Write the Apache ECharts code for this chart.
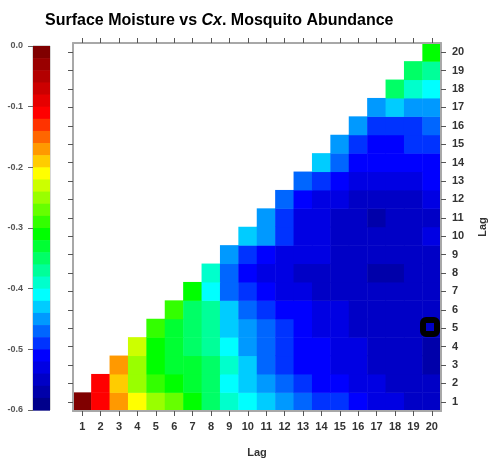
<!DOCTYPE html>
<html><head><meta charset="utf-8">
<script src="https://cdn.jsdelivr.net/npm/echarts@6/dist/echarts.min.js"></script>
<style>html,body{margin:0;padding:0;background:#fff}#c{width:488px;height:459px}</style>
</head><body><div id="c"></div>
<script>
// ---- data ----
const lags = ['1','2','3','4','5','6','7','8','9','10','11','12','13','14','15','16','17','18','19','20'];
// each row r holds values for columns (lag x) r..20
const rowLag1  = [-0.01,-0.11,-0.17,-0.21,-0.25,-0.27,-0.31,-0.35,-0.39,-0.41,-0.43,-0.45,-0.47,-0.49,-0.49,-0.51,-0.53,-0.53,-0.55,-0.55];
const rowLag2  = [-0.11,-0.19,-0.25,-0.29,-0.31,-0.33,-0.35,-0.41,-0.43,-0.45,-0.47,-0.49,-0.51,-0.51,-0.53,-0.53,-0.55,-0.55,-0.55];
const rowLag3  = [-0.17,-0.25,-0.31,-0.33,-0.33,-0.35,-0.39,-0.43,-0.47,-0.49,-0.51,-0.51,-0.53,-0.53,-0.55,-0.55,-0.55,-0.57];
const rowLag4  = [-0.23,-0.31,-0.33,-0.35,-0.37,-0.41,-0.45,-0.47,-0.49,-0.51,-0.51,-0.53,-0.53,-0.55,-0.55,-0.55,-0.57];
const rowLag5  = [-0.29,-0.33,-0.35,-0.37,-0.43,-0.45,-0.47,-0.49,-0.51,-0.53,-0.53,-0.55,-0.55,-0.55,-0.55,-0.55];
const rowLag6  = [-0.29,-0.35,-0.37,-0.43,-0.47,-0.49,-0.51,-0.51,-0.53,-0.53,-0.55,-0.55,-0.55,-0.55,-0.55];
const rowLag7  = [-0.31,-0.41,-0.47,-0.49,-0.51,-0.53,-0.53,-0.55,-0.55,-0.55,-0.55,-0.55,-0.55,-0.55];
const rowLag8  = [-0.39,-0.47,-0.51,-0.53,-0.53,-0.55,-0.55,-0.55,-0.55,-0.57,-0.57,-0.55,-0.55];
const rowLag9  = [-0.45,-0.49,-0.51,-0.53,-0.53,-0.53,-0.55,-0.55,-0.55,-0.55,-0.55,-0.55];
const rowLag10 = [-0.43,-0.45,-0.49,-0.53,-0.53,-0.55,-0.55,-0.55,-0.55,-0.55,-0.53];
const rowLag11 = [-0.45,-0.49,-0.53,-0.53,-0.55,-0.55,-0.57,-0.55,-0.55,-0.55];
const rowLag12 = [-0.47,-0.51,-0.53,-0.53,-0.55,-0.55,-0.55,-0.55,-0.53];
const rowLag13 = [-0.47,-0.49,-0.51,-0.53,-0.53,-0.53,-0.53,-0.51];
const rowLag14 = [-0.43,-0.47,-0.51,-0.51,-0.51,-0.51,-0.51];
const rowLag15 = [-0.45,-0.49,-0.51,-0.51,-0.49,-0.49];
const rowLag16 = [-0.45,-0.49,-0.49,-0.49,-0.47];
const rowLag17 = [-0.45,-0.43,-0.45,-0.45];
const rowLag18 = [-0.35,-0.39,-0.41];
const rowLag19 = [-0.35,-0.37];
const rowLag20 = [-0.31];
// colour levels, top (0.00) to bottom (-0.60), each 0.02 wide
const colorLevels = [
  '#800000','#990000','#B30000','#CC0000','#E60000',
  '#FF0000','#FF3300','#FF6600','#FF9900','#FFCC00',
  '#FFFF00','#CCFF00','#99FF00','#66FF00','#33FF00',
  '#00FF00','#00FF33','#00FF66','#00FF99','#00FFCC',
  '#00FFFF','#00CCFF','#0099FF','#0066FF','#0033FF',
  '#0000FF','#0000E3','#0000C6','#0000AA','#00008B'
];
const levelStep = 0.02;
const colorbarMin = -0.6, colorbarMax = 0, colorbarTickStep = 0.1;
const highlightCell = [20, 5]; // [lag x, lag y]

// ---- build ----
const rows = [rowLag1,rowLag2,rowLag3,rowLag4,rowLag5,rowLag6,rowLag7,rowLag8,rowLag9,rowLag10,
              rowLag11,rowLag12,rowLag13,rowLag14,rowLag15,rowLag16,rowLag17,rowLag18,rowLag19,rowLag20];
const heatData = [];
rows.forEach((vals, ri) => vals.forEach((v, k) => heatData.push([ri + k, ri, v])));
const pieces = colorLevels.map((col, i) => {
  const p = { gte: -(i + 1) * levelStep - 1e-9, color: col };
  if (i === 0) p.lte = 0 + 1e-9; else p.lt = -i * levelStep - 1e-9;
  return p;
});
const cbData = colorLevels.map((c, i) => [0, -i * levelStep, -(i + 1) * levelStep, i]);

const FONT = '"Liberation Sans", Arial, sans-serif';
const lbl = { fontFamily: FONT, fontWeight: 'bold', fontSize: 11, color: '#333' };
const frame = { show: true, lineStyle: { color: '#a8a8a8', width: 2 } };
const tick = (len) => ({ show: true, alignWithLabel: true, interval: 0, length: len, lineStyle: { color: '#555', width: 1 } });

const chart = echarts.init(document.getElementById('c'), null, { renderer: 'canvas' });
chart.setOption({
  animation: false,
  backgroundColor: '#fff',
  title: {
    text: '{b|Surface Moisture vs }{i|Cx}{b|. Mosquito Abundance}',
    left: 40, top: 8,
    textStyle: { rich: {
      b: { fontFamily: FONT, fontWeight: 'bold', fontSize: 16, color: '#000' },
      i: { fontFamily: FONT, fontWeight: 'bold', fontStyle: 'italic', fontSize: 16, color: '#000' }
    } }
  },
  grid: [
    { left: 73, top: 43, width: 368, height: 368, containLabel: false, outerBoundsMode: 'none' },
    { left: 33, top: 46, width: 17, height: 364, containLabel: false, outerBoundsMode: 'none',
      show: true, borderColor: '#b0b0b0', borderWidth: 1 }
  ],
  visualMap: { type: 'piecewise', show: false, dimension: 2, seriesIndex: 0, pieces: pieces },
  xAxis: [
    { type: 'category', gridIndex: 0, data: lags, position: 'bottom', z: 10,
      axisLine: frame, axisTick: tick(5), splitLine: { show: false },
      axisLabel: Object.assign({ interval: 0, margin: 10 }, lbl),
      name: 'Lag', nameLocation: 'middle', nameGap: 36, nameTextStyle: lbl },
    { type: 'category', gridIndex: 0, data: lags, position: 'top', z: 10,
      axisLine: frame, axisTick: tick(5), axisLabel: { show: false }, splitLine: { show: false } },
    { type: 'category', gridIndex: 1, data: ['cb'], show: false }
  ],
  yAxis: [
    { type: 'category', gridIndex: 0, data: lags, position: 'left', z: 10,
      axisLine: frame, axisTick: tick(5), axisLabel: { show: false }, splitLine: { show: false } },
    { type: 'category', gridIndex: 0, data: lags, position: 'right', z: 10,
      axisLine: frame, axisTick: tick(5), splitLine: { show: false },
      axisLabel: Object.assign({ interval: 0, margin: 11 }, lbl),
      name: 'Lag', nameLocation: 'middle', nameGap: 36, nameRotate: 90, nameTextStyle: lbl },
    { type: 'value', gridIndex: 1, min: colorbarMin, max: colorbarMax, interval: colorbarTickStep, position: 'left',
      axisLine: { show: false }, splitLine: { show: false },
      axisTick: { show: true, length: 5, lineStyle: { color: '#666' } },
      axisLabel: { margin: 10, fontFamily: FONT, fontWeight: 'bold', fontSize: 9, color: '#555',
        formatter: v => (Math.abs(v) < 1e-9 ? 0 : v).toFixed(1) } }
  ],
  series: [
    { type: 'heatmap', xAxisIndex: 0, yAxisIndex: 1, data: heatData, progressive: 0,
      itemStyle: { borderWidth: 0 }, emphasis: { disabled: true } },
    { type: 'custom', xAxisIndex: 0, yAxisIndex: 1, z: 20, silent: true, clip: false,
      data: [[highlightCell[0] - 1, highlightCell[1] - 1]],
      renderItem: (params, api) => {
        const p = api.coord([api.value(0), api.value(1)]);
        const s = api.size([1, 1]);
        return { type: 'rect', shape: { x: p[0] - s[0] / 2 + 0.4, y: p[1] - s[1] / 2 + 1, width: s[0] - 4.4, height: s[1] - 4.4, r: 3 },
          style: { fill: null, stroke: '#000', lineWidth: 6 } };
      } },
    { type: 'custom', xAxisIndex: 2, yAxisIndex: 2, silent: true, data: cbData,
      encode: { x: 0, y: [1, 2] },
      renderItem: (params, api) => {
        const a = api.coord([0, api.value(1)]);
        const b = api.coord([0, api.value(2)]);
        const w = api.size([1, 0])[0];
        return { type: 'rect', shape: { x: a[0] - w / 2, y: a[1], width: w, height: b[1] - a[1] + 0.6 },
          style: { fill: colorLevels[api.value(3)] } };
      } }
  ]
});
</script></body></html>
